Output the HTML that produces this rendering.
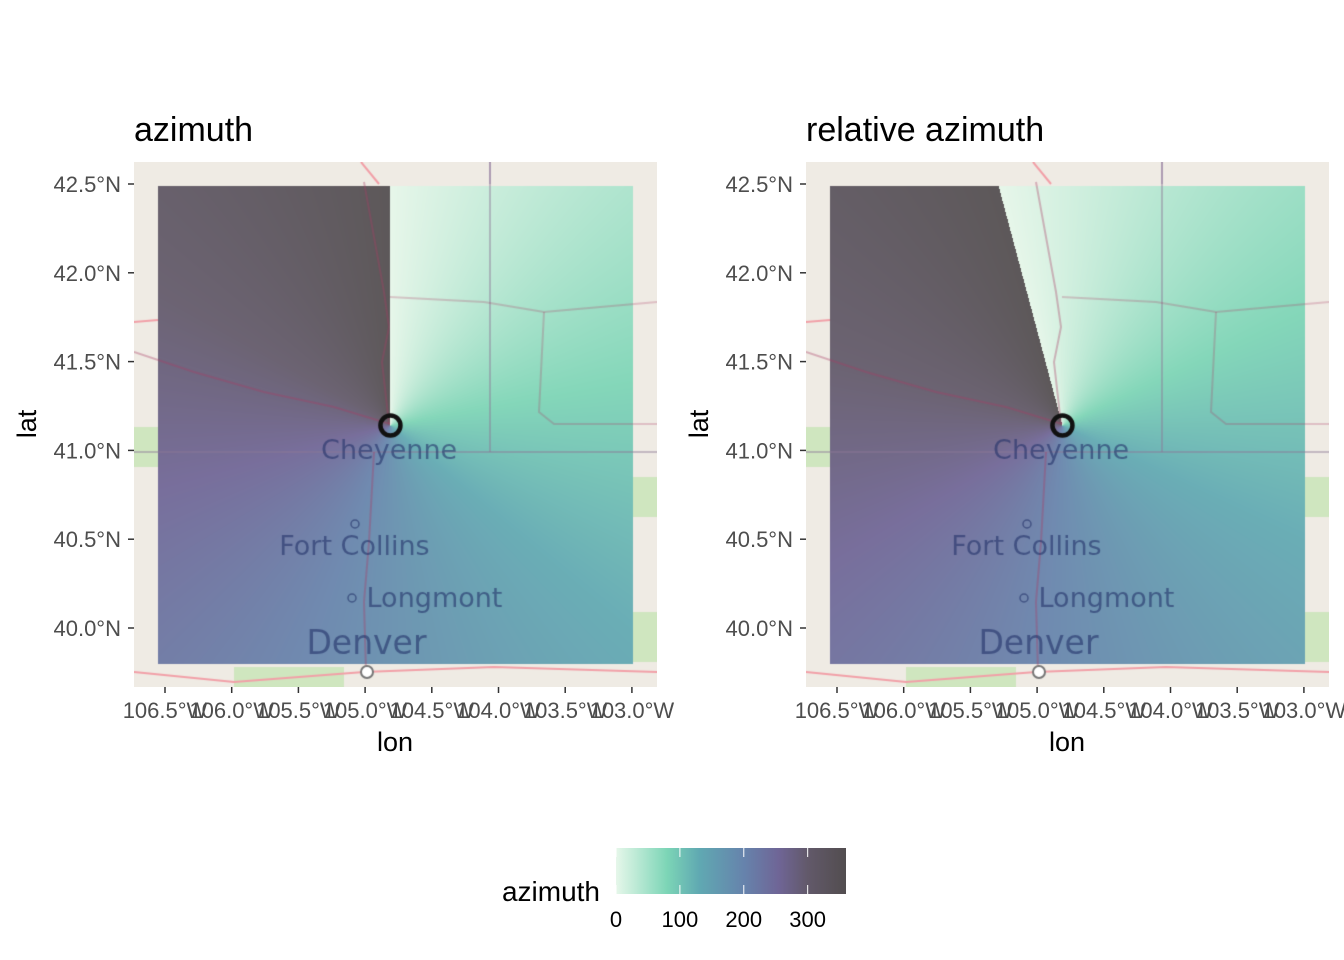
<!DOCTYPE html>
<html><head><meta charset="utf-8"><style>
body{margin:0;background:#fff;width:1344px;height:960px;overflow:hidden;font-family:"Liberation Sans",Arial,sans-serif;}
svg text{font-family:"Liberation Sans",Arial,sans-serif;}
canvas{position:absolute;}
</style></head><body>
<svg id="root" width="1344" height="960" style="position:absolute;left:0;top:0"></svg>
<canvas id="c0" width="523" height="525" style="left:134px;top:162px"></canvas>
<canvas id="c1" width="523" height="525" style="left:806px;top:162px"></canvas>
<svg id="over" width="1344" height="960" style="position:absolute;left:0;top:0"></svg>
<script>
const lonTicks=[-106.5,-106.0,-105.5,-105.0,-104.5,-104.0,-103.5,-103.0];
const latTicks=[40.0,40.5,41.0,41.5,42.0,42.5];
const panelTitles=["azimuth","relative azimuth"];
const panelOffsets=[0,15];
const center=[-104.81,41.14];
const rasterLon=[-106.55,-102.99];
const rasterLat=[39.8,42.49];
const legendTicks=[0,100,200,300];
const legendMax=360;
const stopVals=[0,80,130,200,255,300,360];
const stopCols=["#e6f7ea","#7cd5b6","#60a9b2","#6683ac","#6f6596","#62596a","#524d4f"];
const cities=["Cheyenne","Fort Collins","Longmont","Denver"];
const cityLon=[-104.82,-105.08,-104.48,-104.99];
const cityLat=[40.99,40.45,40.16,39.9];
const citySize=[27,27,27,33];

const NS="http://www.w3.org/2000/svg";
const PX=[134,806],PY=162,PW=523,PH=525;
function xs(lon){return 31+(lon+106.5)*133.4;}
function ys(lat){return 22+(42.5-lat)*177.6;}
function hex(c){return [parseInt(c.slice(1,3),16),parseInt(c.slice(3,5),16),parseInt(c.slice(5,7),16)];}
const sc=stopCols.map(hex);
function col(v){
 for(let i=1;i<stopVals.length;i++){if(v<=stopVals[i]){const t=(v-stopVals[i-1])/(stopVals[i]-stopVals[i-1]);const a=sc[i-1],b=sc[i];return [a[0]+(b[0]-a[0])*t,a[1]+(b[1]-a[1])*t,a[2]+(b[2]-a[2])*t];}}
 return sc[sc.length-1];}
function el(p,tag,at,txt){const e=document.createElementNS(NS,tag);for(const k in at)e.setAttribute(k,at[k]);if(txt!==undefined)e.textContent=txt;p.appendChild(e);return e;}
const root=document.getElementById('root'),over=document.getElementById('over');

for(let p=0;p<2;p++){
 const cv=document.getElementById('c'+p),ctx=cv.getContext('2d');
 ctx.fillStyle="#efebe4";ctx.fillRect(0,0,PW,PH);
 ctx.fillStyle="#cfe6bf";
 ctx.fillRect(0,265,24,40);ctx.fillRect(100,505,110,20);ctx.fillRect(499,315,24,40);ctx.fillRect(499,450,24,50);
 ctx.strokeStyle="#f2a0a8";ctx.lineWidth=2;
 ctx.beginPath();ctx.moveTo(0,510);ctx.lineTo(100,520);ctx.lineTo(230,510);ctx.lineTo(360,505);ctx.lineTo(523,510);ctx.stroke();
 ctx.beginPath();ctx.moveTo(0,160);ctx.lineTo(24,158);ctx.stroke();
 ctx.beginPath();ctx.moveTo(227,0);ctx.lineTo(245,22);ctx.stroke();
 ctx.strokeStyle="#c9b8c8";ctx.lineWidth=2;
 ctx.beginPath();ctx.moveTo(356,0);ctx.lineTo(356,22);ctx.stroke();
 const x0=Math.round(xs(rasterLon[0])),x1=Math.round(xs(rasterLon[1])),y0=Math.round(ys(rasterLat[1])),y1=Math.round(ys(rasterLat[0]));
 const img=ctx.getImageData(x0,y0,x1-x0,y1-y0),d=img.data,w=x1-x0;
 const cx=xs(center[0]),cy=ys(center[1]);
 const alpha=0.93;
 for(let j=0;j<y1-y0;j++)for(let i=0;i<w;i++){
  const dx=(x0+i+0.5-cx)/133.4*Math.cos(41*Math.PI/180),dy=-(y0+j+0.5-cy)/177.6;
  let a=Math.atan2(dx,dy)*180/Math.PI;if(a<0)a+=360;
  a=(a+panelOffsets[p])%360;
  const c=col(a),k=(j*w+i)*4;
  for(let q=0;q<3;q++)d[k+q]=d[k+q]*(1-alpha)+c[q]*alpha;
 }
 ctx.putImageData(img,x0,y0);
 ctx.strokeStyle="rgba(140,120,150,0.45)";ctx.lineWidth=2;
 ctx.beginPath();ctx.moveTo(0,290);ctx.lineTo(PW,290);ctx.stroke();
 ctx.beginPath();ctx.moveTo(356,0);ctx.lineTo(356,290);ctx.stroke();
 ctx.strokeStyle="rgba(170,60,100,0.35)";
 ctx.beginPath();ctx.moveTo(230,20);ctx.lineTo(240,75);ctx.lineTo(250,130);ctx.lineTo(255,165);ctx.lineTo(248,200);ctx.lineTo(255,262);ctx.stroke();
 ctx.beginPath();ctx.moveTo(0,190);ctx.lineTo(60,210);ctx.lineTo(130,230);ctx.lineTo(200,245);ctx.lineTo(256,262);ctx.stroke();
 ctx.beginPath();ctx.moveTo(240,290);ctx.lineTo(235,380);ctx.lineTo(230,440);ctx.lineTo(232,510);ctx.stroke();
 ctx.strokeStyle="rgba(170,60,100,0.25)";
 ctx.beginPath();ctx.moveTo(256,135);ctx.lineTo(350,140);ctx.lineTo(410,150);ctx.lineTo(523,140);ctx.stroke();
 ctx.beginPath();ctx.moveTo(410,150);ctx.lineTo(405,250);ctx.lineTo(420,262);ctx.lineTo(523,262);ctx.stroke();
 ctx.fillStyle="rgba(35,50,105,0.6)";ctx.textAlign="center";ctx.textBaseline="middle";
 for(let i=0;i<cities.length;i++){ctx.font=citySize[i]+'px "DejaVu Sans",sans-serif';
  ctx.fillText(cities[i],xs(cityLon[i]),ys(cityLat[i]));}
 ctx.strokeStyle="rgba(35,50,105,0.6)";ctx.lineWidth=1.5;
 ctx.beginPath();ctx.arc(221,362,4,0,7);ctx.stroke();ctx.beginPath();ctx.arc(218,436,4,0,7);ctx.stroke();
 ctx.fillStyle="#fff";ctx.strokeStyle="#777";ctx.lineWidth=2;
 ctx.beginPath();ctx.arc(233,510,6,0,7);ctx.fill();ctx.stroke();
 ctx.strokeStyle="#111";ctx.lineWidth=4.5;ctx.beginPath();ctx.arc(cx,cy,10,0,7);ctx.stroke();

 const g=el(over,'g',{});
 el(g,'text',{x:PX[p],y:141,'font-size':'34','fill':'#000',},panelTitles[p]);
 lonTicks.forEach(v=>{const x=PX[p]+xs(v);
  el(g,'line',{x1:x,x2:x,y1:687,y2:693,stroke:'#333','stroke-width':1.5,});
  el(g,'text',{x:x,y:718,'text-anchor':'middle','font-size':'22',fill:'#4d4d4d',},Math.abs(v).toFixed(1)+'°W');});
 latTicks.forEach(v=>{const y=PY+ys(v);
  el(g,'line',{x1:PX[p]-6,x2:PX[p],y1:y,y2:y,stroke:'#333','stroke-width':1.5,});
  el(g,'text',{x:PX[p]-13,y:y+8,'text-anchor':'end','font-size':'22',fill:'#4d4d4d',},v.toFixed(1)+'°N');});
 el(g,'text',{x:PX[p]+261,y:751,'text-anchor':'middle','font-size':'27',fill:'#000',},'lon');
 el(g,'text',{x:0,y:0,transform:`translate(${PX[p]-98},${PY+262}) rotate(-90)`,'text-anchor':'middle','font-size':'27',fill:'#000',},'lat');
}
const lg=el(over,'g',{});
const LX=616,LW=230,LY=848,LH=46;
const defs=el(lg,'defs',{});const gr=el(defs,'linearGradient',{id:'lgr',x1:0,x2:1,y1:0,y2:0});
stopVals.forEach((v,i)=>el(gr,'stop',{offset:v/legendMax,'stop-color':stopCols[i]}));
el(lg,'rect',{x:LX,y:LY,width:LW,height:LH,fill:'url(#lgr)',});
el(lg,'text',{x:600,y:901,'text-anchor':'end','font-size':'28',fill:'#000',},'azimuth');
legendTicks.forEach(v=>{const x=LX+v/legendMax*LW;
 el(lg,'line',{x1:x,x2:x,y1:LY,y2:LY+9,stroke:'#fff','stroke-width':1,});
 el(lg,'line',{x1:x,x2:x,y1:LY+LH-9,y2:LY+LH,stroke:'#fff','stroke-width':1,});
 el(lg,'text',{x:x,y:927,'text-anchor':'middle','font-size':'22',fill:'#000',},String(v));});
</script>
</body></html>
